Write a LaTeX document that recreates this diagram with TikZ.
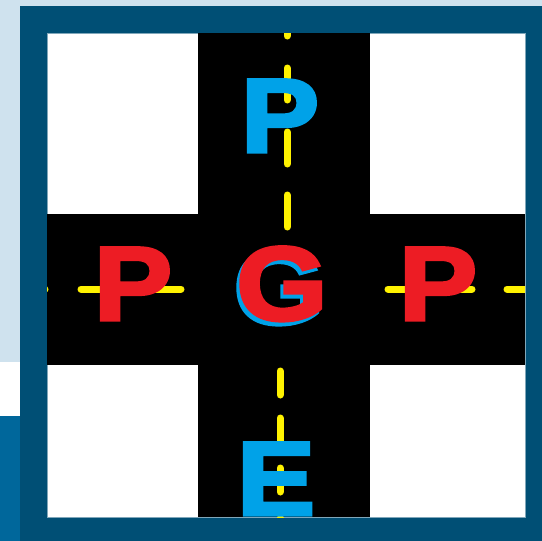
\documentclass[tikz,border=0pt]{standalone}
\usepackage{fontspec}
\newfontfamily\heavy[FakeBold=3]{Liberation Sans Bold}
\definecolor{lightbg}{HTML}{CFE2EE}
\definecolor{framec}{HTML}{004F75}
\definecolor{sideblue}{HTML}{00679B}
\definecolor{letterblue}{HTML}{00A2E8}
\definecolor{letterred}{HTML}{ED1C24}
\definecolor{lane}{HTML}{FFF200}
\tikzset{
  lanemark/.style={draw=lane, line width=7pt, line cap=round},
  bigletter/.style={font=\heavy\fontsize{105}{105}\selectfont, inner sep=0pt, anchor=base, xscale=1.12},
}
\begin{document}
\begin{tikzpicture}[x=1pt,y=-1pt]
\useasboundingbox (0,0) rectangle (542,541);
% background strips
\fill[lightbg] (0,0) rectangle (542,362);
\fill[white] (0,362) rectangle (20,416);
\fill[sideblue] (0,416) rectangle (20,541);
% frame
\fill[framec] (20,6) rectangle (542,541);
\fill[white, draw=framec!50, line width=0.8pt] (47,33) rectangle (525,517);
% roads
\fill[black] (198,33) rectangle (370,517);
\fill[black] (47,214) rectangle (525,365);
% lane markings
\begin{scope}
\clip (47,33) rectangle (525,517);
% vertical upper
\foreach \a in {0,64,128,191} {
  \coordinate (u1) at (287,\a+4);
  \coordinate (u2) at (287,\a+36);
  \draw[lanemark] (u1) -- (u2);
}
% vertical lower
\foreach \a in {368,415,465,515} {
  \coordinate (l1) at (280,\a+3);
  \coordinate (l2) at (280,\a+27);
  \draw[lanemark] (l1) -- (l2);
}
% horizontal
\coordinate (h1) at (20,289); \coordinate (h2) at (45,289);
\coordinate (h3) at (81,289); \coordinate (h4) at (181,289);
\coordinate (h5) at (388,289); \coordinate (h6) at (472,289);
\coordinate (h7) at (507,289); \coordinate (h8) at (560,289);
\draw[lanemark] (h1) -- (h2);
\draw[lanemark] (h3) -- (h4);
\draw[lanemark] (h5) -- (h6);
\draw[lanemark] (h7) -- (h8);
\end{scope}
% letters
\node[bigletter, text=letterblue] (ptop) at (280,152) {P};
\node[bigletter, text=letterred] (pleft) at (133,320) {P};
\node[bigletter, text=letterred] (pright) at (438,320) {P};
\node[bigletter, text=letterblue] (gshadow) at (279,324) {G};
\node[bigletter, text=letterred] (g) at (282,320) {G};
\node[bigletter, text=letterblue] (e) at (276,515) {E};
\end{tikzpicture}
\end{document}
